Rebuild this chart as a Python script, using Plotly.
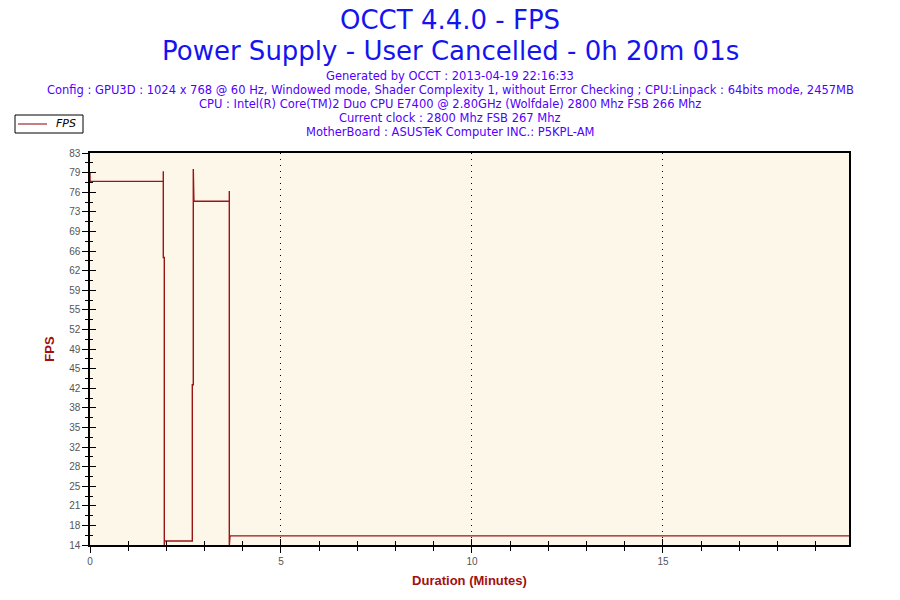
"""OCCT 4.4.0 FPS chart (Power Supply test) recreated with Plotly"""

import plotly.graph_objects as go

# data (minutes, frames per second)
time_min = [0.0, 0.0, 0.017, 1.919, 1.919, 1.919, 1.945, 1.945, 1.95, 2.678, 2.678,
            2.704, 2.704, 2.72, 2.72, 3.647, 3.647, 3.647, 3.665, 19.87]
fps = [79.5, 78.0, 78.0, 78.0, 79.8, 64.6, 64.6, 14.0, 14.7, 14.7, 42.2,
       42.2, 80.2, 75.4, 74.5, 74.5, 76.3, 14.0, 15.6, 15.6]

# y axis: 20 equal steps from 14 to 83, labelled with rounded values
y_min, y_max = 14.0, 83.0
y_ticktext = ["14", "18", "21", "25", "28", "32", "35", "38", "42", "45", "49",
              "52", "55", "59", "62", "66", "69", "73", "76", "79", "83"]
x_major = [0, 5, 10, 15]
x_max = 19.87

title_lines = ["OCCT 4.4.0 - FPS", "Power Supply - User Cancelled - 0h 20m 01s"]
info_lines = [
    "Generated by OCCT : 2013-04-19 22:16:33",
    "Config : GPU3D : 1024 x 768 @ 60 Hz, Windowed mode, Shader Complexity 1, "
    "without Error Checking ; CPU:Linpack : 64bits mode, 2457MB",
    "CPU : Intel(R) Core(TM)2 Duo CPU E7400 @ 2.80GHz (Wolfdale) 2800 Mhz FSB 266 Mhz",
    "Current clock : 2800 Mhz FSB 267 Mhz",
    "MotherBoard : ASUSTeK Computer INC.: P5KPL-AM",
]

LINE_COLOR = "#9b1414"
TITLE_COLOR = "#1414f0"
INFO_COLOR = "#5000ff"
AXIS_TITLE_COLOR = "#a01010"

# プロット領域（画面上のピクセル位置）
PLOT_L, PLOT_R, PLOT_T, PLOT_B = 90, 849, 153, 545
PAGE_OFFSET = 8  # ページの body マージン


def px_x(sx):
    return (sx - PLOT_L) / (PLOT_R - PLOT_L)


def px_y(sy):
    return (PLOT_B - sy) / (PLOT_B - PLOT_T)


y_step = (y_max - y_min) / (len(y_ticktext) - 1)
y_tickvals = [y_min + i * y_step for i in range(len(y_ticktext))]
y_minor = [v + y_step / 2 for v in y_tickvals[:-1]]

fig = go.Figure()
fig.add_trace(go.Scatter(
    x=time_min, y=fps, mode="lines", name="FPS",
    line=dict(color=LINE_COLOR, width=1.4),
    showlegend=False,
))
# dummy trace so the overlay axes (inner half of the crossing ticks) get drawn
fig.add_trace(go.Scatter(
    x=[0], y=[y_min], xaxis="x2", yaxis="y2", mode="markers",
    marker=dict(opacity=0), showlegend=False, hoverinfo="skip",
))

# 凡例（左上の小さな枠）
fig.add_shape(type="rect", xref="paper", yref="paper",
              x0=px_x(15), x1=px_x(83), y0=px_y(133), y1=px_y(115),
              line=dict(color="black", width=1), fillcolor="white")
fig.add_shape(type="line", xref="paper", yref="paper",
              x0=px_x(18), x1=px_x(47), y0=px_y(124), y1=px_y(124),
              line=dict(color="#8b0000", width=1))
fig.add_annotation(text="<i>FPS</i>", xref="paper", yref="paper",
                   x=px_x(54), y=px_y(124), xanchor="left", yanchor="middle",
                   showarrow=False, font=dict(family="DejaVu Sans", size=11, color="black"))

# タイトル
for i, t in enumerate(title_lines):
    fig.add_annotation(text=t, xref="paper", yref="paper", x=px_x(450), xanchor="center",
                       y=px_y(20 + 31 * i), yanchor="middle", showarrow=False,
                       font=dict(family="DejaVu Sans", size=26, color=TITLE_COLOR))
for i, t in enumerate(info_lines):
    fig.add_annotation(text=t, xref="paper", yref="paper", x=px_x(450), xanchor="center",
                       y=px_y(76 + 14 * i), yanchor="middle", showarrow=False,
                       font=dict(family="DejaVu Sans", size=11.5, color=INFO_COLOR))

tick_font = dict(family="Liberation Sans, Arial", size=10, color="#555555")
axis_title_font = dict(family="Liberation Sans, Arial", size=13, color=AXIS_TITLE_COLOR)

fig.update_layout(
    width=900 - PAGE_OFFSET, height=600 - PAGE_OFFSET,
    margin=dict(l=PLOT_L - PAGE_OFFSET, r=900 - PLOT_R, t=PLOT_T - PAGE_OFFSET, b=600 - PLOT_B),
    paper_bgcolor="white",
    plot_bgcolor="#fdf7ea",
    xaxis=dict(
        range=[0, x_max], tickvals=x_major, ticks="outside", ticklen=6, tickwidth=1,
        tickcolor="black", tickfont=tick_font,
        minor=dict(dtick=1, ticks="outside", ticklen=4, tickcolor="black", showgrid=False),
        showgrid=True, gridcolor="black", griddash="1px,5px", gridwidth=1,
        showline=True, linecolor="black", linewidth=1.5, mirror=True,
        zeroline=False,
        title=dict(text="<b>Duration (Minutes)</b>", font=axis_title_font, standoff=10),
    ),
    yaxis=dict(
        range=[y_min, y_max], tickvals=y_tickvals, ticktext=y_ticktext,
        ticks="outside", ticklen=6, tickwidth=1, tickcolor="black", tickfont=tick_font,
        minor=dict(tickvals=y_minor, ticks="outside", ticklen=3, tickcolor="black",
                   showgrid=False),
        showgrid=False, showline=True, linecolor="black", linewidth=1.5, mirror=True,
        zeroline=False,
        title=dict(text="<b>FPS</b>", font=axis_title_font, standoff=12),
    ),
    xaxis2=dict(
        overlaying="x", matches="x", range=[0, x_max], tickvals=x_major,
        ticks="inside", ticklen=6, tickcolor="black", showticklabels=False,
        minor=dict(dtick=1, ticks="inside", ticklen=4, tickcolor="black"),
        showgrid=False, zeroline=False, anchor="y2",
    ),
    yaxis2=dict(
        overlaying="y", matches="y", range=[y_min, y_max], tickvals=y_tickvals,
        ticks="inside", ticklen=6, tickcolor="black", showticklabels=False,
        minor=dict(tickvals=y_minor, ticks="inside", ticklen=3, tickcolor="black"),
        showgrid=False, zeroline=False, anchor="x2",
    ),
    showlegend=False,
)

fig.write_html("out.html")
